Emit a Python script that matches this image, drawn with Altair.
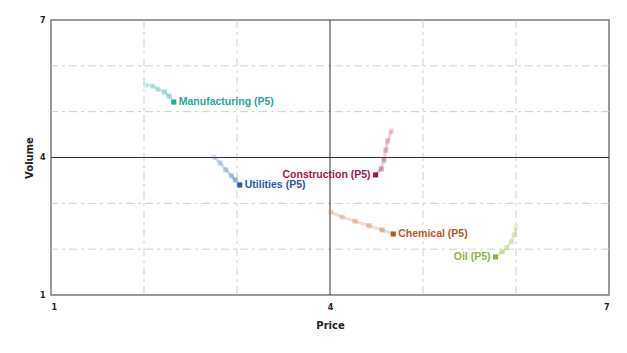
import altair as alt
import pandas as pd

series = ["Manufacturing", "Utilities", "Construction", "Chemical", "Oil"]
colors = ["#2aa79b", "#2b5c9c", "#a3154f", "#b4581f", "#8fb43a"]
periods = ["P0", "P1", "P2", "P3", "P4", "P5"]

manufacturing_price = [2.02, 2.09, 2.15, 2.22, 2.27, 2.32]
manufacturing_volume = [5.58, 5.56, 5.49, 5.43, 5.34, 5.21]
utilities_price = [2.75, 2.82, 2.88, 2.94, 2.98, 3.03]
utilities_volume = [4.01, 3.88, 3.73, 3.60, 3.51, 3.40]
construction_price = [4.66, 4.62, 4.60, 4.58, 4.55, 4.49]
construction_volume = [4.58, 4.36, 4.16, 3.95, 3.75, 3.62]
chemical_price = [4.01, 4.13, 4.27, 4.42, 4.56, 4.68]
chemical_volume = [2.81, 2.70, 2.61, 2.51, 2.42, 2.33]
oil_price = [6.00, 5.98, 5.95, 5.90, 5.85, 5.78]
oil_volume = [2.48, 2.31, 2.16, 2.03, 1.94, 1.83]

x_ticks = [1, 4, 7]
y_ticks = [1, 4, 7]
dashed_grid = [2, 3, 5, 6]
center_line = [4]
left_labelled = ["Construction", "Oil"]

prices = [manufacturing_price, utilities_price, construction_price, chemical_price, oil_price]
volumes = [manufacturing_volume, utilities_volume, construction_volume, chemical_volume, oil_volume]
point_opacity = [0.18, 0.22, 0.26, 0.3, 0.36, 1.0]

rows = []
for s, px, vy in zip(series, prices, volumes):
    for i, (p, v) in enumerate(zip(px, vy)):
        rows.append({"series": s, "idx": i, "period": periods[i], "price": p,
                     "volume": v, "op": point_opacity[i],
                     "label": f"{s} ({periods[i]})"})
df = pd.DataFrame(rows)

xscale = alt.Scale(domain=[1, 7], nice=False, zero=False)
yscale = alt.Scale(domain=[1, 7], nice=False, zero=False)
xaxis = alt.Axis(values=x_ticks, grid=False, ticks=False, domain=False,
                 labelFontSize=8, labelFontWeight="bold", labelColor="#222",
                 labelPadding=8, title="Price", titleFontSize=10,
                 titleFontWeight="bold", titlePadding=9, titleColor="#222",
                 labelFont="DejaVu Sans", titleFont="DejaVu Sans")
yaxis = alt.Axis(values=y_ticks, grid=False, ticks=False, domain=False,
                 labelFontSize=8, labelFontWeight="bold", labelColor="#222",
                 labelPadding=6, title="Volume", titleFontSize=10,
                 titleFontWeight="bold", titlePadding=5, titleColor="#222",
                 labelFont="DejaVu Sans", titleFont="DejaVu Sans")
X = alt.X("price:Q", scale=xscale, axis=xaxis)
Y = alt.Y("volume:Q", scale=yscale, axis=yaxis)
color = alt.Color("series:N", scale=alt.Scale(domain=series, range=colors), legend=None)

grid_df = pd.DataFrame({"v": dashed_grid})
center_df = pd.DataFrame({"v": center_line})

vgrid = alt.Chart(grid_df).mark_rule(color="#cfcfcf", strokeDash=[8, 4, 3, 4], strokeWidth=1).encode(
    x=alt.X("v:Q", scale=xscale, axis=xaxis))
hgrid = alt.Chart(grid_df).mark_rule(color="#cfcfcf", strokeDash=[8, 4, 3, 4], strokeWidth=1).encode(
    y=alt.Y("v:Q", scale=yscale, axis=yaxis))
vcenter = alt.Chart(center_df).mark_rule(color="#333333", strokeWidth=1).encode(
    x=alt.X("v:Q", scale=xscale, axis=xaxis))
hcenter = alt.Chart(center_df).mark_rule(color="#333333", strokeWidth=1).encode(
    y=alt.Y("v:Q", scale=yscale, axis=yaxis))

base = alt.Chart(df)
lines = base.mark_line(strokeWidth=3, opacity=0.2).encode(
    x=X, y=Y, color=color, detail="series:N", order="idx:Q")
points = base.mark_square(size=26).encode(
    x=X, y=Y, color=color, opacity=alt.Opacity("op:Q", scale=None, legend=None))

final = base.transform_filter(alt.datum.idx == 5)
labels_right = final.transform_filter(
    ~alt.FieldOneOfPredicate(field="series", oneOf=left_labelled)
).mark_text(align="left", baseline="middle", dx=5, fontSize=10.5, fontWeight="bold",
            font="Liberation Sans").encode(x=X, y=Y, color=color, text="label:N")
labels_left = final.transform_filter(
    alt.FieldOneOfPredicate(field="series", oneOf=left_labelled)
).mark_text(align="right", baseline="middle", dx=-5, fontSize=10.5, fontWeight="bold",
            font="Liberation Sans").encode(x=X, y=Y, color=color, text="label:N")

chart = alt.layer(vgrid, hgrid, vcenter, hcenter, lines, points, labels_right, labels_left).properties(
    width=558, height=275,
    autosize=alt.AutoSizeParams(type="none"),
    padding={"left": 51, "top": 20, "right": 18, "bottom": 58},
    background="white",
).configure_view(stroke="#7a7a7a", strokeWidth=1.5)

chart.save("out.html", embed_options={"renderer": "svg", "actions": False})
